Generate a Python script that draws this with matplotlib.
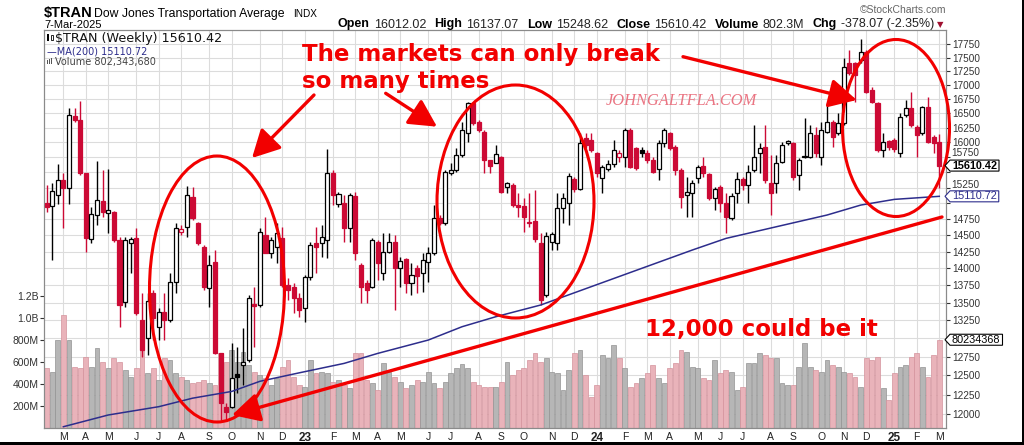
import numpy as np
import pandas as pd
import matplotlib
matplotlib.use("Agg")
import matplotlib.pyplot as plt
from matplotlib.patches import Ellipse, Rectangle, FancyArrowPatch, Polygon
from matplotlib.ticker import FixedLocator, NullLocator
import matplotlib.transforms as mtransforms

plt.rcParams['font.family'] = ['Liberation Sans', 'DejaVu Sans']

# ---------------- data ----------------
start_week = "2022-02-14"

opens = [15008, 14955, 15131, 15373, 15240, 16450, 16381, 15482, 14442, 14814,
         15040, 14850, 14865, 14427, 13515, 14386, 14452, 13255, 13001, 13635,
         13162, 13372, 13255, 13804, 14550, 14632, 15104, 14693, 14316, 13708,
         14091, 12796, 12094, 12094, 12519, 12639, 12706, 13482, 13468, 14503,
         14226, 14325, 14452, 13756, 13732, 13563, 13421, 13877, 14377, 14377,
         14427, 15482, 14987, 14998, 14607, 15120, 14050, 13781, 13732, 14401,
         13927, 14250, 14401, 14001, 14135, 13781, 14001, 13927, 14100, 14226,
         14762, 14684, 15482, 15536, 15785, 16152, 16675, 16352, 16180, 15702,
         15657, 15757, 15265, 15292, 14971, 14955, 14709, 14724, 14377, 13611,
         14400, 14377, 14919, 14998, 15384, 15224, 16067, 16040, 15813, 15400,
         15560, 15636, 15757, 15757, 16209, 15897, 15869, 15813, 15702, 15548,
         15982, 16152, 15924, 15536, 15131, 15158, 15400, 15602, 15470, 15078,
         15265, 14998, 14762, 15158, 15389, 15292, 15536, 15813, 15914, 15320,
         15320, 15674, 15982, 15982, 15454, 15768, 15757, 16123, 15757, 16180,
         16352, 16152, 16324, 17395, 17395, 17456, 17611, 16910, 16685, 15869,
         16026, 16038, 15813, 16468, 16586, 16266, 16163, 16614, 16084, 16012.02]
highs = [15292, 15320, 15636, 15482, 16585, 16585, 16720, 15482, 14944, 15690,
         15536, 15548, 14880, 14477, 14477, 14477, 14607, 13635, 13635, 13683,
         13421, 13635, 13927, 14684, 14658, 15276, 15265, 14700, 14351, 14200,
         14275, 12800, 12137, 12932, 12886, 13139, 13611, 13723, 14607, 14788,
         14477, 14684, 14632, 13853, 13781, 13635, 13902, 14401, 14632, 14658,
         15880, 15536, 15184, 15131, 15158, 15184, 14076, 13829, 14452, 14427,
         14530, 14530, 14503, 14175, 14150, 14076, 14050, 14226, 14325, 14971,
         14814, 15536, 15650, 15900, 16352, 16700, 16700, 16381, 16209, 15710,
         15953, 15768, 15346, 15320, 15158, 15078, 15158, 15211, 14530, 14555,
         14555, 15158, 15158, 15482, 15427, 16152, 16163, 16152, 15840, 15619,
         15700, 16038, 15869, 16238, 16238, 15924, 15924, 15869, 15757, 16038,
         16238, 16180, 15953, 15564, 15427, 15373, 15619, 15757, 15482, 15265,
         15292, 15158, 15158, 15508, 15427, 15619, 16295, 15982, 16295, 15785,
         15785, 16010, 16038, 16010, 15730, 16411, 16295, 16266, 16352, 16674,
         16381, 16498, 17487, 17642, 17424, 17843, 17642, 16969, 16702, 16152,
         16038, 16067, 16498, 16732, 16880, 16295, 16626, 16791, 16123, 16137.07]
lows = [14865, 14125, 14987, 14607, 14987, 16352, 15454, 14250, 14377, 14658,
        14788, 14530, 14401, 13162, 13444, 13927, 13326, 12750, 12773, 12978,
        12978, 12978, 13232, 13635, 14503, 14477, 14735, 14351, 13683, 13444,
        12790, 11925, 11925, 12073, 12266, 12374, 12683, 12886, 13444, 14226,
        14150, 14076, 13732, 13539, 13349, 13302, 13232, 13829, 13927, 14175,
        14150, 14971, 14944, 14401, 14401, 14125, 13492, 13492, 13708, 13829,
        13829, 14226, 13396, 13732, 13635, 13611, 13635, 13659, 13804, 14200,
        14658, 14658, 15454, 15508, 15757, 16010, 16295, 16180, 15482, 15482,
        15647, 15158, 15158, 14944, 14788, 14555, 14632, 14401, 13468, 13587,
        14275, 14275, 14684, 14658, 15184, 15211, 15897, 15840, 15427, 15158,
        15520, 15591, 15674, 15591, 15564, 15536, 15757, 15647, 15482, 15373,
        15924, 15869, 15454, 14919, 14788, 14788, 15320, 15427, 15051, 14892,
        14865, 14530, 14735, 14998, 15211, 14998, 15508, 15482, 15320, 14814,
        15158, 15647, 15953, 15373, 15211, 15730, 15730, 15757, 15619, 16152,
        15924, 16123, 16295, 17181, 16702, 17395, 16851, 16674, 15840, 15757,
        15869, 15840, 15757, 16428, 16266, 15757, 16123, 15982, 15813, 15248.62]
closes = [14944, 15200, 15373, 15240, 16468, 16381, 15482, 14452, 14830, 15051,
          14865, 14892, 14427, 13468, 14427, 14440, 13349, 12841, 13530, 13279,
          13372, 13255, 13804, 14607, 14592, 15131, 14762, 14377, 13732, 14050,
          12796, 12137, 12030, 12463, 12484, 12683, 13563, 13454, 14555, 14235,
          14427, 14530, 13756, 13683, 13563, 13396, 13877, 14351, 14325, 14477,
          15492, 15131, 15140, 14607, 15131, 14226, 13732, 13683, 14427, 14076,
          14250, 14401, 14001, 14110, 13781, 13902, 13890, 14125, 14235, 14762,
          14684, 15508, 15536, 15785, 16209, 16675, 16325, 16209, 15702, 15603,
          15802, 15184, 15320, 14971, 14935, 14788, 14684, 14437, 13539, 14488,
          14519, 14919, 15078, 15443, 15224, 15982, 15953, 15869, 15482, 15591,
          15640, 15869, 15813, 16209, 15591, 15564, 15813, 15702, 15508, 15982,
          16209, 15897, 15536, 15104, 15184, 15330, 15581, 15482, 15078, 15224,
          14998, 14788, 15120, 15389, 15292, 15508, 15757, 15907, 15373, 15158,
          15647, 15953, 16021, 15427, 15702, 15747, 16152, 15813, 16209, 16352,
          16094, 16324, 17333, 17211, 17181, 17611, 16880, 16702, 15869, 16010,
          15924, 15880, 16428, 16586, 16295, 16123, 16604, 16010, 15988.49, 15610.42]
volumes_m = [542, 512, 800, 1027, 800, 558, 542, 648, 558, 724,
             603, 542, 633, 603, 527, 467, 542, 709, 497, 542,
             436, 633, 618, 497, 467, 436, 406, 421, 436, 406,
             391, 679, 603, 709, 603, 694, 573, 512, 482, 451,
             391, 451, 558, 618, 467, 391, 376, 618, 497, 512,
             497, 421, 436, 391, 361, 679, 679, 436, 406, 345,
             588, 512, 467, 421, 361, 391, 436, 421, 512, 406,
             361, 421, 497, 542, 582, 542, 421, 391, 376, 376,
             376, 421, 603, 482, 527, 542, 618, 685, 603, 633,
             512, 497, 345, 527, 679, 709, 482, 285, 391, 664,
             633, 754, 633, 542, 376, 406, 451, 497, 573, 451,
             406, 542, 588, 709, 694, 558, 542, 451, 436, 618,
             500, 527, 512, 345, 376, 588, 588, 679, 664, 633,
             633, 406, 391, 391, 558, 770, 558, 527, 512, 618,
             573, 558, 512, 497, 467, 376, 633, 618, 648, 361,
             255, 497, 558, 573, 648, 679, 558, 467, 664, 802.3]
ma_weeks = [3, 11, 20, 26, 33, 38, 45, 53, 59, 68, 74, 80, 88, 97, 106, 115,
            121, 130, 139, 145, 151, 159]
ma200 = [11840, 11988, 12094, 12203, 12291, 12423, 12535, 12661, 12796, 12978,
         13162, 13302, 13468, 13732, 14001, 14275, 14452, 14632, 14814, 14971,
         15062, 15110.72]
price_ticks = list(range(12000, 17751, 250))
price_hidden = [15500, 15000, 13000]
price_nudged = [15750, 15250]
vol_ticks_m = [200, 400, 600, 800, 1000, 1200]
vol_tick_labels = ['200M', '400M', '600M', '800M', '1.0B', '1.2B']
last_close = 15610.42
last_ma = 15110.72
last_vol = 802343680

# ---------------- layout ----------------
W, H = 1024, 445
fig = plt.figure(figsize=(W / 100, H / 100), dpi=100)
fig.patch.set_facecolor('white')
renderer = fig.canvas.get_renderer()


def fx(px):
    return px / W


def fy(py):
    return 1 - py / H


L, R, T, B = 44, 946, 30, 428
ax_vol = fig.add_axes([fx(L), fy(B), (R - L) / W, (B - T) / H])
ax = ax_vol.twinx()

RED = '#cc0a35'
NAVY = '#2d2d8c'
n = len(closes)
idx = np.arange(n)
o = np.array(opens, float)
h = np.array(highs, float)
l = np.array(lows, float)
c = np.array(closes, float)
prev = np.r_[o[0], c[:-1]]
down = c < prev
edge = np.where(down, RED, 'black')
face = np.where(c >= o, 'white', edge)

# volume
vcol = np.where(down, '#e9b3ba', '#b6b6b6')
vedge = np.where(down, '#d4939c', '#939393')
ax_vol.bar(idx, np.array(volumes_m) * 1e6, width=0.86, color=vcol,
           edgecolor=vedge, linewidth=0.5, zorder=2)
vol_top = (B - T) / 22 * 200e6
ax_vol.set_yticks([v * 1e6 for v in vol_ticks_m])
ax_vol.set_yticklabels(vol_tick_labels)

# months
dates = pd.date_range(start_week, periods=n, freq="7D")
mpos, mlab, mbold = [], [], []
for i in range(1, n):
    if dates[i].month != dates[i - 1].month:
        mpos.append(i)
        if dates[i].month == 1:
            mlab.append(dates[i].strftime('%y'))
            mbold.append(True)
        else:
            mlab.append(dates[i].strftime('%b')[0])
            mbold.append(False)
ax_vol.set_xticks(mpos)
ax_vol.set_xticklabels(mlab)
for t, b in zip(ax_vol.get_xticklabels(), mbold):
    if b:
        t.set_fontweight('bold')
        t.set_fontsize(8.5)
    else:
        t.set_fontsize(7.5)
ax_vol.grid(axis='x', color='#dcdcdc', lw=0.8)
ax_vol.set_axisbelow(True)
ax_vol.tick_params(axis='x', length=0, pad=3, colors='#222222')
ax_vol.tick_params(axis='y', length=3, pad=1, labelsize=7.5, colors='#333333')

# price axis
ax.set_yscale('log')
ax.set_ylim(11824, 18020)
ax.set_xlim(-0.45, 160.2)
ax_vol.set_xlim(-0.45, 160.2)
ax.yaxis.set_major_locator(FixedLocator(price_ticks))
ax.yaxis.set_minor_locator(NullLocator())
ax.set_yticklabels(['' if (p in price_hidden or p in price_nudged) else str(p)
                    for p in price_ticks])
ax.tick_params(axis='y', length=3, pad=1.5, labelsize=7.2, colors='#333333')

trans_h = mtransforms.blended_transform_factory(ax_vol.transAxes, ax.transData)
for p in price_ticks:
    ax_vol.plot([0, 1], [p, p], transform=trans_h, color='#dcdcdc', lw=0.8, zorder=0.5)
ax_vol.set_ylim(0, vol_top)

# nudged tick labels (partly crowded by the value boxes)
for p, dy in zip(price_nudged, [4, 3]):
    tr = trans_h + mtransforms.ScaledTranslation(0, dy / 100, fig.dpi_scale_trans)
    ax_vol.text(1.0 + 5.5 / (R - L), p, str(p), transform=tr, fontsize=7.2, color='#333333',
                ha='left', va='center', clip_on=False)

for sp in list(ax.spines.values()) + list(ax_vol.spines.values()):
    sp.set_color('#8a8a8a')
    sp.set_linewidth(0.8)

# candles
ax.vlines(idx, l, h, colors=edge, lw=1.0, zorder=3)
ax.bar(idx, np.maximum(np.abs(c - o), 1.0), bottom=np.minimum(o, c), width=0.72,
       color=face, edgecolor=edge, linewidth=0.9, zorder=4)
ax.plot(ma_weeks, ma200, color=NAVY, lw=1.1, zorder=5)

ax.set_zorder(ax_vol.get_zorder() + 1)

# ---------------- annotations ----------------
ARED = '#f20000'


def afx(px):
    return (px - L) / (R - L)


def afy(py):
    return (B - py) / (B - T)


for (cx, cy, w, hh) in [(217, 289, 135, 266), (515.5, 201.5, 157, 233), (896, 128, 107, 177)]:
    e = Ellipse((afx(cx), afy(cy)), w / (R - L), hh / (B - T), transform=ax.transAxes,
                fill=False, ec=ARED, lw=2.2, zorder=8, clip_on=False)
    ax.add_patch(e)

arrows = [((942, 217), (232, 415)), ((314, 95), (252, 158)),
          ((385.7, 93.3), (437, 126.7)), ((683, 56.7), (856.7, 100))]
for (p0, p1) in arrows:
    a = FancyArrowPatch((afx(p0[0]), afy(p0[1])), (afx(p1[0]), afy(p1[1])),
                        transform=ax.transAxes, arrowstyle='-|>,head_length=0.8,head_width=0.42',
                        mutation_scale=21, color=ARED, lw=2.4, zorder=9, clip_on=False,
                        shrinkA=0, shrinkB=0)
    ax.add_patch(a)

fig.text(fx(302), fy(61), "The markets can only break", fontsize=16.5, fontweight='bold',
         color=ARED, family='DejaVu Sans', va='baseline', ha='left', zorder=20)
fig.text(fx(302), fy(88), "so many times", fontsize=16.5, fontweight='bold',
         color=ARED, family='DejaVu Sans', va='baseline', ha='left', zorder=20)
fig.text(fx(645), fy(336), "12,000 could be it", fontsize=16.5, fontweight='bold',
         color=ARED, family='DejaVu Sans', va='baseline', ha='left', zorder=20)
fig.text(fx(606), fy(105), "JOHNGALTFLA.COM", fontsize=11.8, style='italic',
         color='#ea7482', family='Liberation Serif', va='baseline', ha='left', zorder=20)

# ---------------- header ----------------
fig.text(fx(44), fy(17), "$TRAN", fontsize=10.5, fontweight='bold', va='baseline', ha='left')
fig.text(fx(94), fy(17), "Dow Jones Transportation Average", fontsize=8.8, va='baseline', ha='left')
fig.text(fx(293), fy(17), "INDX", fontsize=7.2, va='baseline', ha='left')
fig.text(fx(44), fy(28), "7-Mar-2025", fontsize=8, va='baseline', ha='left')
fig.text(fx(946), fy(13), "\u00a9StockCharts.com", fontsize=7.5, color='#666666',
         va='baseline', ha='right')

pieces = [("Open", True), ("16012.02", False), ("High", True), ("16137.07", False),
          ("Low", True), ("15248.62", False), ("Close", True), ("15610.42", False),
          ("Volume", True), ("802.3M", False), ("Chg", True), ("-378.07 (-2.35%)", False)]


def place_pieces(gap_vl, fs):
    made = []
    xcur = 338
    last = xcur
    for txt, bold in pieces:
        t = fig.text(fx(xcur), fy(27.5), txt, fontsize=fs,
                     fontweight='bold' if bold else 'normal', va='baseline', ha='left',
                     color='black' if bold else '#222222')
        bb = t.get_window_extent(renderer)
        last = bb.x1
        xcur = bb.x1 + (4 if bold else gap_vl)
        made.append(t)
    return made, last


made, last = place_pieces(7, 9.0)
gap = 7 + (934 - last) / 5
for t in made:
    t.remove()
made, last = place_pieces(gap, 9.0)
fig.text(fx(last + 3), fy(27.5), "\u25bc", fontsize=6, color='#a01030', va='baseline',
         ha='left', family='DejaVu Sans')

# legend in panel
fig.patches.append(Rectangle((fx(47), fy(41)), 2 / W, 7 / H, transform=fig.transFigure,
                             fc='black', ec='none'))
fig.patches.append(Rectangle((fx(50.5), fy(40)), 2 / W, 5 / H, transform=fig.transFigure,
                             fc='white', ec='black', lw=0.6))
fig.text(fx(55), fy(42), "$TRAN (Weekly) 15610.42", fontsize=9.2, family='DejaVu Sans',
         va='baseline', ha='left', color='#111111')
fig.text(fx(47), fy(54), "\u2014MA(200) 15110.72", fontsize=7, family='DejaVu Sans',
         va='baseline', ha='left', color=NAVY)
for k in range(3):
    fig.patches.append(Rectangle((fx(47 + 2 * k), fy(64)), 1.3 / W, (4 + k) / H,
                                 transform=fig.transFigure, fc='#555555', ec='none'))
fig.text(fx(55), fy(64.5), "Volume 802,343,680", fontsize=7, family='DejaVu Sans',
         va='baseline', ha='left', color='#444444')

# outer frame (right and bottom dark edge)
fig.patches.append(Rectangle((fx(1021.5), 0), 2.5 / W, 1, transform=fig.transFigure,
                             fc='black', ec='none'))
fig.patches.append(Rectangle((0, 0), 1, 3 / H, transform=fig.transFigure,
                             fc='black', ec='none'))


# right-axis value boxes with a left pointer
def value_box(axis_for_y, yval, text, color, bold):
    tr = mtransforms.blended_transform_factory(ax.transAxes, axis_for_y.transData)
    t = ax.text(1.0 + 6 / (R - L), yval, text, transform=tr, ha='left', va='center',
                fontsize=7.8, fontweight='bold' if bold else 'normal', color=color,
                clip_on=False, zorder=31)
    fig.canvas.draw()
    bb = t.get_window_extent(fig.canvas.get_renderer())
    x0, x1 = bb.x0 - 2, bb.x1 + 2
    y0, y1 = bb.y0 - 0.5, bb.y1 + 0.5
    ym = (y0 + y1) / 2
    poly = Polygon([(x0 - 5, ym), (x0, y1), (x1, y1), (x1, y0), (x0, y0)], closed=True,
                   transform=mtransforms.IdentityTransform(), fc='white', ec=color,
                   lw=0.8, zorder=30, clip_on=False)
    ax.add_patch(poly)


value_box(ax, last_close, f"{last_close:.2f}", 'black', True)
value_box(ax, last_ma, f"{last_ma:.2f}", NAVY, False)
value_box(ax_vol, last_vol, f"{last_vol // 10}", 'black', False)

fig.savefig("out.png", dpi=100)
